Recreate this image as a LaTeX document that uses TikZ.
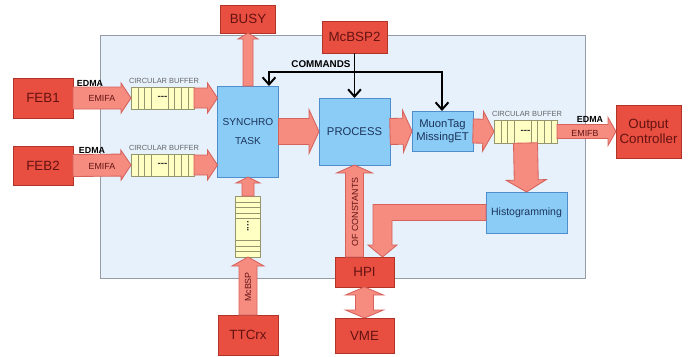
\documentclass[tikz,border=0pt]{standalone}
\usepackage{fontspec}
\setmainfont{Liberation Sans}
\usetikzlibrary{arrows.meta, positioning, calc}

\definecolor{redbox}{RGB}{233,79,64}
\definecolor{redline}{RGB}{176,52,40}
\definecolor{redtext}{RGB}{100,18,18}
\definecolor{arrfill}{RGB}{246,140,128}
\definecolor{arrline}{RGB}{214,98,92}
\definecolor{bluebox}{RGB}{138,204,245}
\definecolor{blueline}{RGB}{78,142,205}
\definecolor{bluetext}{RGB}{28,52,92}
\definecolor{boardfill}{RGB}{230,241,252}
\definecolor{boardline}{RGB}{150,155,165}
\definecolor{buffill}{RGB}{255,255,196}
\definecolor{bufline}{RGB}{150,150,110}

% fat arrow: start, tip, shaft half width, head half width, head length (px)
\newcommand{\fatarrow}[5]{%
  \coordinate (fa-base) at ($(#2)!#5*0.025cm!(#1)$);
  \filldraw[fatarr] ($(#1)!#3*0.025cm!90:(#2)$) -- ($(fa-base)!#3*0.025cm!90:(#2)$)
    -- ($(fa-base)!#4*0.025cm!90:(#2)$) -- (#2)
    -- ($(fa-base)!#4*0.025cm!-90:(#2)$) -- ($(fa-base)!#3*0.025cm!-90:(#2)$)
    -- ($(#1)!#3*0.025cm!-90:(#2)$) -- cycle;}
% fat arrow with a head at both ends
\newcommand{\dblfatarrow}[5]{%
  \coordinate (fa-ba) at ($(#1)!#5*0.025cm!(#2)$);
  \coordinate (fa-bb) at ($(#2)!#5*0.025cm!(#1)$);
  \filldraw[fatarr] (#1) -- ($(fa-ba)!#4*0.025cm!90:(#2)$) -- ($(fa-ba)!#3*0.025cm!90:(#2)$)
    -- ($(fa-bb)!#3*0.025cm!90:(#2)$) -- ($(fa-bb)!#4*0.025cm!90:(#2)$) -- (#2)
    -- ($(fa-bb)!#4*0.025cm!-90:(#2)$) -- ($(fa-bb)!#3*0.025cm!-90:(#2)$)
    -- ($(fa-ba)!#3*0.025cm!-90:(#2)$) -- ($(fa-ba)!#4*0.025cm!-90:(#2)$) -- cycle;}

\begin{document}
\begin{tikzpicture}[x=0.025cm, y=-0.025cm,
  wh/.style 2 args={minimum width=#1*0.025cm, minimum height=#2*0.025cm},
  unit/.style={draw=redline, fill=redbox, text=redtext, line width=0.6pt,
    inner sep=0pt, outer sep=0pt, align=center, font=\fontsize{9.5}{11}\selectfont},
  task/.style={draw=blueline, fill=bluebox, text=bluetext, line width=0.6pt,
    inner sep=0pt, outer sep=0pt, align=center, font=\fontsize{7.5}{9}\selectfont},
  buffer/.style={draw=bufline, fill=buffill, line width=0.5pt, inner sep=0pt, outer sep=0pt},
  cell/.style={draw=bufline, line width=0.5pt},
  dots/.style={font=\bfseries\fontsize{7}{7}\selectfont, text=black!80, inner sep=0pt},
  fatarr/.style={draw=arrline, fill=arrfill, line width=0.6pt, line join=miter},
  cmd/.style={-{Straight Barb[length=1.8mm, width=3.2mm]}, line width=1.4pt, black},
  buflabel/.style={font=\fontsize{5.3}{6}\selectfont, text=black!60, inner sep=0pt},
  arrlabel/.style={font=\fontsize{6.3}{7}\selectfont, text=redtext, inner sep=0pt},
  bus/.style={font=\bfseries\fontsize{6.3}{7}\selectfont, inner sep=0pt},
  cmdlabel/.style={font=\bfseries\fontsize{7}{8}\selectfont, inner sep=0pt}
]
\useasboundingbox (0,0) rectangle (690,356);

% DSP board
\node[draw=boardline, fill=boardfill, line width=0.6pt, wh={485}{243}] (board) at (342.5,156.5) {};

% Interfaces
\node[unit, wh={60}{40}] (feb1) at (43,98) {FEB1};
\node[unit, wh={60}{39}] (feb2) at (43,165.5) {FEB2};
\node[unit, wh={55}{28}] (busy) at (248,19) {BUSY};
\node[unit, wh={65}{32}] (mcbsp) at (354.5,37) {McBSP2};
\node[unit, wh={65}{53}] (output) at (648.5,131.5) {Output\\Controller};
\node[unit, wh={59}{30}] (hpi) at (364.5,272) {HPI};
\node[unit, wh={59}{35}] (vme) at (364.5,335.5) {VME};
\node[unit, wh={60}{40}] (ttcrx) at (248,335) {TTCrx};

% Tasks
\node[task, wh={61}{91}, font=\fontsize{7.2}{13}\selectfont] (synchro) at (248,131.5) {SYNCHRO\\TASK};
\node[task, wh={71}{67}, font=\fontsize{8}{9}\selectfont] (process) at (354.5,131.5) {PROCESS};
\node[task, wh={61}{40}, font=\fontsize{8}{9.5}\selectfont] (muon) at (442.5,131) {MuonTag\\MissingET};
\node[task, wh={81}{41}] (hist) at (526.5,212.5) {Histogramming};

% Circular buffers
\node[buffer, wh={63}{22}] (buf1) at (162.5,98) {};
\node[buffer, wh={63}{22}] (buf2) at (162.5,165) {};
\node[buffer, wh={63}{23}] (buf3) at (525.5,131.5) {};
\node[buffer, wh={25}{61}] (vbuf) at (248,226.5) {};
\foreach \b in {buf1,buf2,buf3}{
  \foreach \dx in {7,13,20,37,43,50,57}
    \draw[cell] ($(\b.north west)+(\dx,0)$) -- ($(\b.south west)+(\dx,0)$);
  \node[dots] at (\b) {-{}-{}-};
}
\foreach \dy in {6,11,17,22,44,50,55}
  \draw[cell] ($(vbuf.north west)+(0,\dy)$) -- ($(vbuf.north east)+(0,\dy)$);
\node[dots, rotate=90] at (vbuf) {....};

% Data flow
\coordinate (sync1) at (synchro.west |- buf1.east);
\coordinate (sync2) at (synchro.west |- buf2.east);
\coordinate (constS) at (hpi.north -| process.south);
\fatarrow{feb1.east}{buf1.west}{11}{15}{10}
\fatarrow{feb2.east}{buf2.west}{11}{15}{10}
\fatarrow{buf1.east}{sync1}{10}{15}{10}
\fatarrow{buf2.east}{sync2}{10}{15}{10}
\fatarrow{synchro.east}{process.west}{13}{22}{10}
\fatarrow{process.east}{muon.west}{13}{21}{9}
\fatarrow{muon.east}{buf3.west}{12}{20}{11}
\fatarrow{buf3.east}{output.west}{7}{14}{8}
\fatarrow{buf3.south}{hist.north}{12}{20}{12}
\fatarrow{synchro.north}{busy.south}{5}{10}{6}
\fatarrow{vbuf.north}{synchro.south}{6}{12}{6}
\fatarrow{ttcrx.north}{vbuf.south}{9}{16}{9}
\fatarrow{constS}{process.south}{9}{18}{8}
\dblfatarrow{hpi.south}{vme.north}{9}{19}{8}

% Histogramming back to HPI
\coordinate (histin) at ($(hpi.north)+(18,0)$);
\coordinate (elbow) at (histin |- hist.west);
\filldraw[fatarr] ($(hist.west)+(0,-8)$) -- ($(elbow)+(-9.5,-8)$) -- ($(histin)+(-9.5,-12)$)
  -- ($(histin)+(-14.5,-12)$) -- (histin) -- ($(histin)+(14.5,-12)$) -- ($(histin)+(9.5,-12)$)
  -- ($(elbow)+(9.5,8)$) -- ($(hist.west)+(0,8)$) -- cycle;

% Commands
\coordinate (cmdL) at (269,72);
\coordinate (cmdR) at (442,72);
\draw[cmd] (mcbsp.south) -- (process.north);
\draw[cmd] (cmdR) -- (cmdL) -- (synchro.north -| cmdL);
\draw[cmd] (cmdL) -- (cmdR) -- (muon.north -| cmdR);
\node[cmdlabel] (commands) at (321,64) {COMMANDS};

% Labels
\node[bus] (edma1) at (90,83) {EDMA};
\node[arrlabel] (emifa1) at (102,98) {EMIFA};
\node[bus] (edma2) at (92,150) {EDMA};
\node[arrlabel] (emifa2) at (102,166) {EMIFA};
\node[bus] (edma3) at (590,119) {EDMA};
\node[arrlabel] (emifb) at (585,133) {EMIFB};
\node[buflabel] (cb1) at (164,81) {CIRCULAR BUFFER};
\node[buflabel] (cb2) at (164,148) {CIRCULAR BUFFER};
\node[buflabel] (cb3) at (527,114) {CIRCULAR BUFFER};
\node[arrlabel, rotate=90] (consts) at (355,212) {OF CONSTANTS};
\node[arrlabel, rotate=90] (mcbsplab) at (248,287) {McBSP};

\end{tikzpicture}
\end{document}
